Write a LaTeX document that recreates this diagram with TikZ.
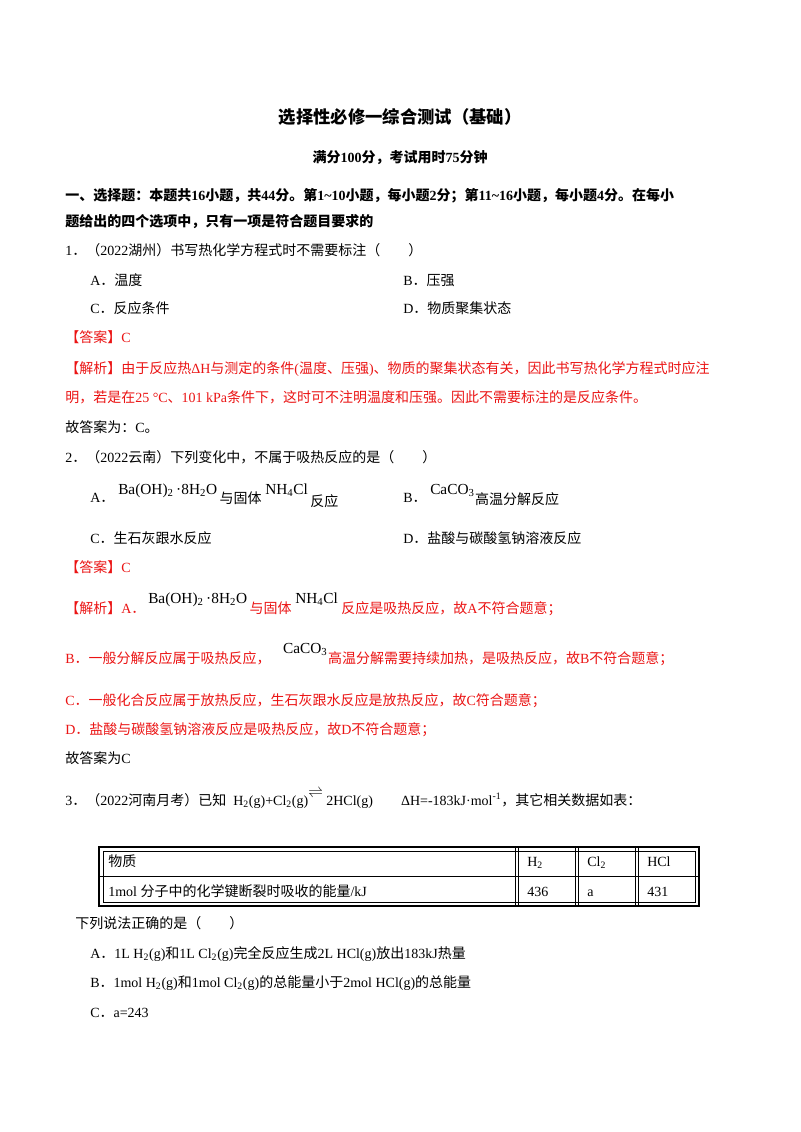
\documentclass[tikz,border=0pt]{standalone}
\usetikzlibrary{calc}
\usepackage{fontspec}
\setmainfont{Liberation Serif}
\newfontfamily\cjk{Noto Sans CJK SC}
\XeTeXinterchartokenstate=1
\newXeTeXintercharclass\CJKcls
\count255="3000
\loop\XeTeXcharclass\count255=\CJKcls\advance\count255 by 1\ifnum\count255<"A000\repeat
\count255="FF00
\loop\XeTeXcharclass\count255=\CJKcls\advance\count255 by 1\ifnum\count255<"FFF0\repeat
\XeTeXinterchartoks 0 \CJKcls={\cjk}
\XeTeXinterchartoks 4095 \CJKcls={\cjk}
\XeTeXinterchartoks \CJKcls 0={\rmfamily}
\XeTeXinterchartoks \CJKcls 4095={\rmfamily}
\definecolor{ansred}{RGB}{235,20,20}
\newcommand{\sbs}[1]{\textsubscript{#1}}
\tikzset{tx/.style={anchor=base west,inner sep=0pt,font=\fontsize{10.5}{12}\selectfont},
 rd/.style={tx,text=ansred}, fm/.style={tx,font=\fontsize{11.5}{13}\selectfont}}
\begin{document}
\begin{tikzpicture}[x=0.75pt,y=-0.75pt]
\useasboundingbox (0,0) rectangle (800,1132);
\fill[white] (0,0) rectangle (800,1132);
\node[inner sep=0,font=\fontsize{13}{15}\selectfont\bfseries] (t0) at (400,117) {选择性必修一综合测试（基础）};
\node[inner sep=0,font=\fontsize{10.5}{12}\selectfont\bfseries] (t1) at (400,158) {满分100分，考试用时75分钟};
\node[tx,font=\fontsize{10.5}{12}\selectfont\bfseries] (t2) at (65,200) {一、选择题：本题共16小题，共44分。第1\textasciitilde10小题，每小题2分；第11\textasciitilde16小题，每小题4分。在每小};
\node[tx,font=\fontsize{10.5}{12}\selectfont\bfseries] (t3) at (65,226) {题给出的四个选项中，只有一项是符合题目要求的};
\node[tx] (q1) at (65,255) {1．（2022湖州）书写热化学方程式时不需要标注（\quad\quad）};
\node[tx] (q1a) at (90,285) {A．温度};
\node[tx] (q1b) at (403,285) {B．压强};
\node[tx] (q1c) at (90,313) {C．反应条件};
\node[tx] (q1d) at (403,313) {D．物质聚集状态};
\node[rd] (a1) at (65,342) {【答案】C};
\node[rd] (j1) at (65,373) {【解析】由于反应热ΔH与测定的条件(温度、压强)、物质的聚集状态有关，因此书写热化学方程式时应注};
\node[rd] (j1b) at (65,402) {明，若是在25 °C、101 kPa条件下，这时可不注明温度和压强。因此不需要标注的是反应条件。};
\node[tx] (g1) at (65,432) {故答案为：C。};
\node[tx] (q2) at (65,462) {2．（2022云南）下列变化中，不属于吸热反应的是（\quad\quad）};
\node[tx] (q2a) at (90,502) {A．};
\node[fm] (q2af) at (118,494) {Ba(OH)\sbs{2}\,·8H\sbs{2}O};
\node[tx] (q2ab) at ($(q2af.base east)+(2,9)$) {与固体};
\node[fm] (q2ac) at ($(q2ab.base east)+(3,-9)$) {NH\sbs{4}Cl};
\node[tx] (q2ad) at ($(q2ac.base east)+(2,12)$) {反应};
\node[tx] (q2b) at (403,502) {B．};
\node[fm] (q2bf) at (430,494) {CaCO\sbs{3}};
\node[tx] (q2bb) at ($(q2bf.base east)+(0,10)$) {高温分解反应};
\node[tx] (q2c) at (90,543) {C．生石灰跟水反应};
\node[tx] (q2d) at (403,543) {D．盐酸与碳酸氢钠溶液反应};
\node[rd] (a2) at (65,572) {【答案】C};
\node[rd] (j2) at (65,613) {【解析】A．};
\node[fm] (j2f) at (148,603) {Ba(OH)\sbs{2}\,·8H\sbs{2}O};
\node[rd] (j2b) at ($(j2f.base east)+(2,10)$) {与固体};
\node[fm] (j2c) at ($(j2b.base east)+(3,-10)$) {NH\sbs{4}Cl};
\node[rd] (j2d) at ($(j2c.base east)+(3,10)$) {反应是吸热反应，故A不符合题意；};
\node[rd] (j3) at (65,663) {B．一般分解反应属于吸热反应，};
\node[fm] (j3f) at ($(j3.base east)+(12,-10)$) {CaCO\sbs{3}};
\node[rd] (j3b) at ($(j3f.base east)+(0,10)$) {高温分解需要持续加热，是吸热反应，故B不符合题意；};
\node[rd] (j4) at (65,705) {C．一般化合反应属于放热反应，生石灰跟水反应是放热反应，故C符合题意；};
\node[rd] (j5) at (65,734) {D．盐酸与碳酸氢钠溶液反应是吸热反应，故D不符合题意；};
\node[tx] (g2) at (65,763) {故答案为C};
\node[tx] (q3) at (65,805) {3．（2022河南月考）已知\ \ H\sbs{2}(g)+Cl\sbs{2}(g)\raisebox{6pt}{$\rightleftharpoons$}\ 2HCl(g)\qquad ΔH=-183kJ·mol\textsuperscript{-1}，其它相关数据如表：};
% table
\draw[line width=1.4pt] (99,847) rectangle (699,906);
\draw[line width=0.5pt] (103,851) rectangle (695,902);
\draw[line width=1.2pt] (99,876.5) -- (699,876.5);
\foreach \xx in {517,577,637}{
 \draw[line width=0.5pt] (\xx-2,847) -- (\xx-2,906);
 \draw[line width=0.5pt] (\xx+1,847) -- (\xx+1,906);}
\node[tx] (r1) at (108,866) {物质};
\node[tx] (r2) at (527,866) {H\sbs{2}};
\node[tx] (r3) at (587,866) {Cl\sbs{2}};
\node[tx] (r4) at (647,866) {HCl};
\node[tx] (s1) at (108,896) {1mol 分子中的化学键断裂时吸收的能量/kJ};
\node[tx] (s2) at (527,896) {436};
\node[tx] (s3) at (587,896) {a};
\node[tx] (s4) at (647,896) {431};
\node[tx] (q3s) at (75,928) {下列说法正确的是（\quad\quad）};
\node[tx] (q3a) at (90,958) {A．1L H\sbs{2}(g)和1L Cl\sbs{2}(g)完全反应生成2L HCl(g)放出183kJ热量};
\node[tx] (q3b) at (90,987) {B．1mol H\sbs{2}(g)和1mol Cl\sbs{2}(g)的总能量小于2mol HCl(g)的总能量};
\node[tx] (q3c) at (90,1017) {C．a=243};
\end{tikzpicture}
\end{document}
